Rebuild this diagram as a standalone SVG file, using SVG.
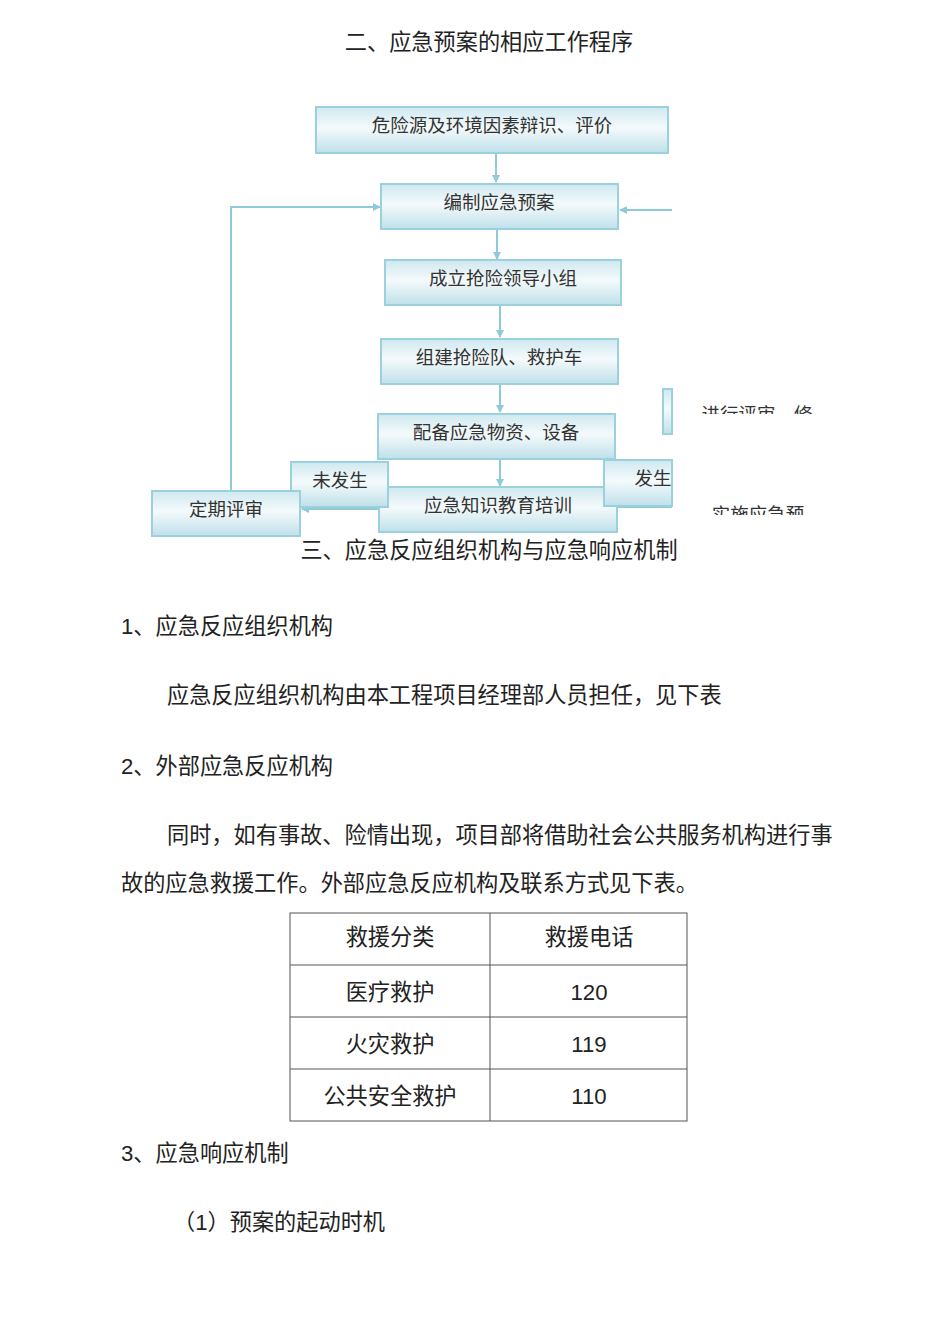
<svg xmlns="http://www.w3.org/2000/svg" width="950" height="1344" viewBox="0 0 950 1344">
<defs>
<linearGradient id="g" x1="0" y1="0" x2="0" y2="1">
<stop offset="0" stop-color="#cfe8f0"/><stop offset="0.45" stop-color="#f4fafc"/><stop offset="1" stop-color="#bfe0ea"/>
</linearGradient>
<marker id="a" markerWidth="8" markerHeight="8" refX="7" refY="4" orient="auto" markerUnits="userSpaceOnUse"><path d="M0,0 L8,4 L0,8 Z" fill="#8ecad8"/></marker>
<clipPath id="c1"><rect x="680" y="395" width="200" height="19"/></clipPath>
<clipPath id="c2"><rect x="700" y="495" width="200" height="20"/></clipPath>
</defs>
<style>
.b{fill:url(#g);stroke:#9bd0dd;stroke-width:2}
.t{font-family:"Noto Sans CJK SC","Liberation Serif",serif;font-size:18.5px;fill:#333;text-anchor:middle}
.p{font-family:"Liberation Sans","Noto Sans CJK SC",sans-serif;font-size:22.2px;fill:#222}
.l{stroke:#8ecad8;stroke-width:2;fill:none}
.tb{stroke:#555;stroke-width:1;fill:none}
</style>
<text class="p" x="489" y="50" text-anchor="middle">二、应急预案的相应工作程序</text>
<g id="connectors">
<line class="l" x1="496" y1="153" x2="496" y2="182" marker-end="url(#a)"/>
<line class="l" x1="497" y1="229" x2="497" y2="259" marker-end="url(#a)"/>
<line class="l" x1="500" y1="305" x2="500" y2="337" marker-end="url(#a)"/>
<line class="l" x1="500" y1="384" x2="500" y2="412" marker-end="url(#a)"/>
<line class="l" x1="500" y1="459" x2="500" y2="486" marker-end="url(#a)"/>
<polyline class="l" points="231,490 231,207 380,207" marker-end="url(#a)"/>
<line class="l" x1="672" y1="210" x2="620" y2="210" marker-end="url(#a)"/>
<line class="l" x1="379" y1="509" x2="302" y2="509" marker-end="url(#a)"/>
<line class="l" x1="617" y1="507" x2="672" y2="507"/>
</g>
<g id="n1"><rect class="b" x="316" y="107" width="352" height="46"/><text class="t" x="492" y="132">危险源及环境因素辩识、评价</text></g>
<g id="n2"><rect class="b" x="381" y="184" width="237" height="45"/><text class="t" x="499" y="209">编制应急预案</text></g>
<g id="n3"><rect class="b" x="385" y="260" width="236" height="45"/><text class="t" x="503" y="285">成立抢险领导小组</text></g>
<g id="n4"><rect class="b" x="381" y="339" width="237" height="45"/><text class="t" x="499" y="364">组建抢险队、救护车</text></g>
<g id="n5"><rect class="b" x="378" y="414" width="237" height="45"/><text class="t" x="496" y="439">配备应急物资、设备</text></g>
<g id="n6"><rect class="b" x="379" y="487" width="238" height="45"/><text class="t" x="498" y="512">应急知识教育培训</text></g>
<g id="n7"><rect class="b" x="291" y="462" width="97" height="45"/><text class="t" x="340" y="487">未发生</text></g>
<g id="n8"><rect class="b" x="604" y="460" width="68" height="46"/><text class="t" x="653" y="485">发生</text></g>
<g id="n9"><rect class="b" x="152" y="491" width="148" height="45"/><text class="t" x="226" y="516">定期评审</text></g>
<g id="n10"><rect class="b" x="663" y="389" width="9" height="45"/></g>
<g id="n11" clip-path="url(#c1)"><text class="t" x="757" y="421">进行评审、修</text></g>
<g id="n12" clip-path="url(#c2)"><text class="t" x="758" y="521">实施应急预</text></g>
<text class="p" x="489" y="558" text-anchor="middle">三、应急反应组织机构与应急响应机制</text>
<text class="p" x="121" y="634">1、应急反应组织机构</text>
<text class="p" x="167" y="703">应急反应组织机构由本工程项目经理部人员担任，见下表</text>
<text class="p" x="121" y="774">2、外部应急反应机构</text>
<text class="p" x="167" y="843">同时，如有事故、险情出现，项目部将借助社会公共服务机构进行事</text>
<text class="p" x="121" y="891">故的应急救援工作。外部应急反应机构及联系方式见下表。</text>
<g id="table">
<rect class="tb" x="290" y="913" width="397" height="208"/>
<line class="tb" x1="490" y1="913" x2="490" y2="1121"/>
<line class="tb" x1="290" y1="965" x2="687" y2="965"/>
<line class="tb" x1="290" y1="1017" x2="687" y2="1017"/>
<line class="tb" x1="290" y1="1069" x2="687" y2="1069"/>
<text class="p" x="390" y="945" text-anchor="middle">救援分类</text>
<text class="p" x="589" y="945" text-anchor="middle">救援电话</text>
<text class="p" x="390" y="1000" text-anchor="middle">医疗救护</text>
<text class="p" x="589" y="1000" text-anchor="middle">120</text>
<text class="p" x="390" y="1052" text-anchor="middle">火灾救护</text>
<text class="p" x="589" y="1052" text-anchor="middle">119</text>
<text class="p" x="390" y="1104" text-anchor="middle">公共安全救护</text>
<text class="p" x="589" y="1104" text-anchor="middle">110</text>
</g>
<text class="p" x="121" y="1161">3、应急响应机制</text>
<text class="p" x="173" y="1230">（1）预案的起动时机</text>
</svg>
